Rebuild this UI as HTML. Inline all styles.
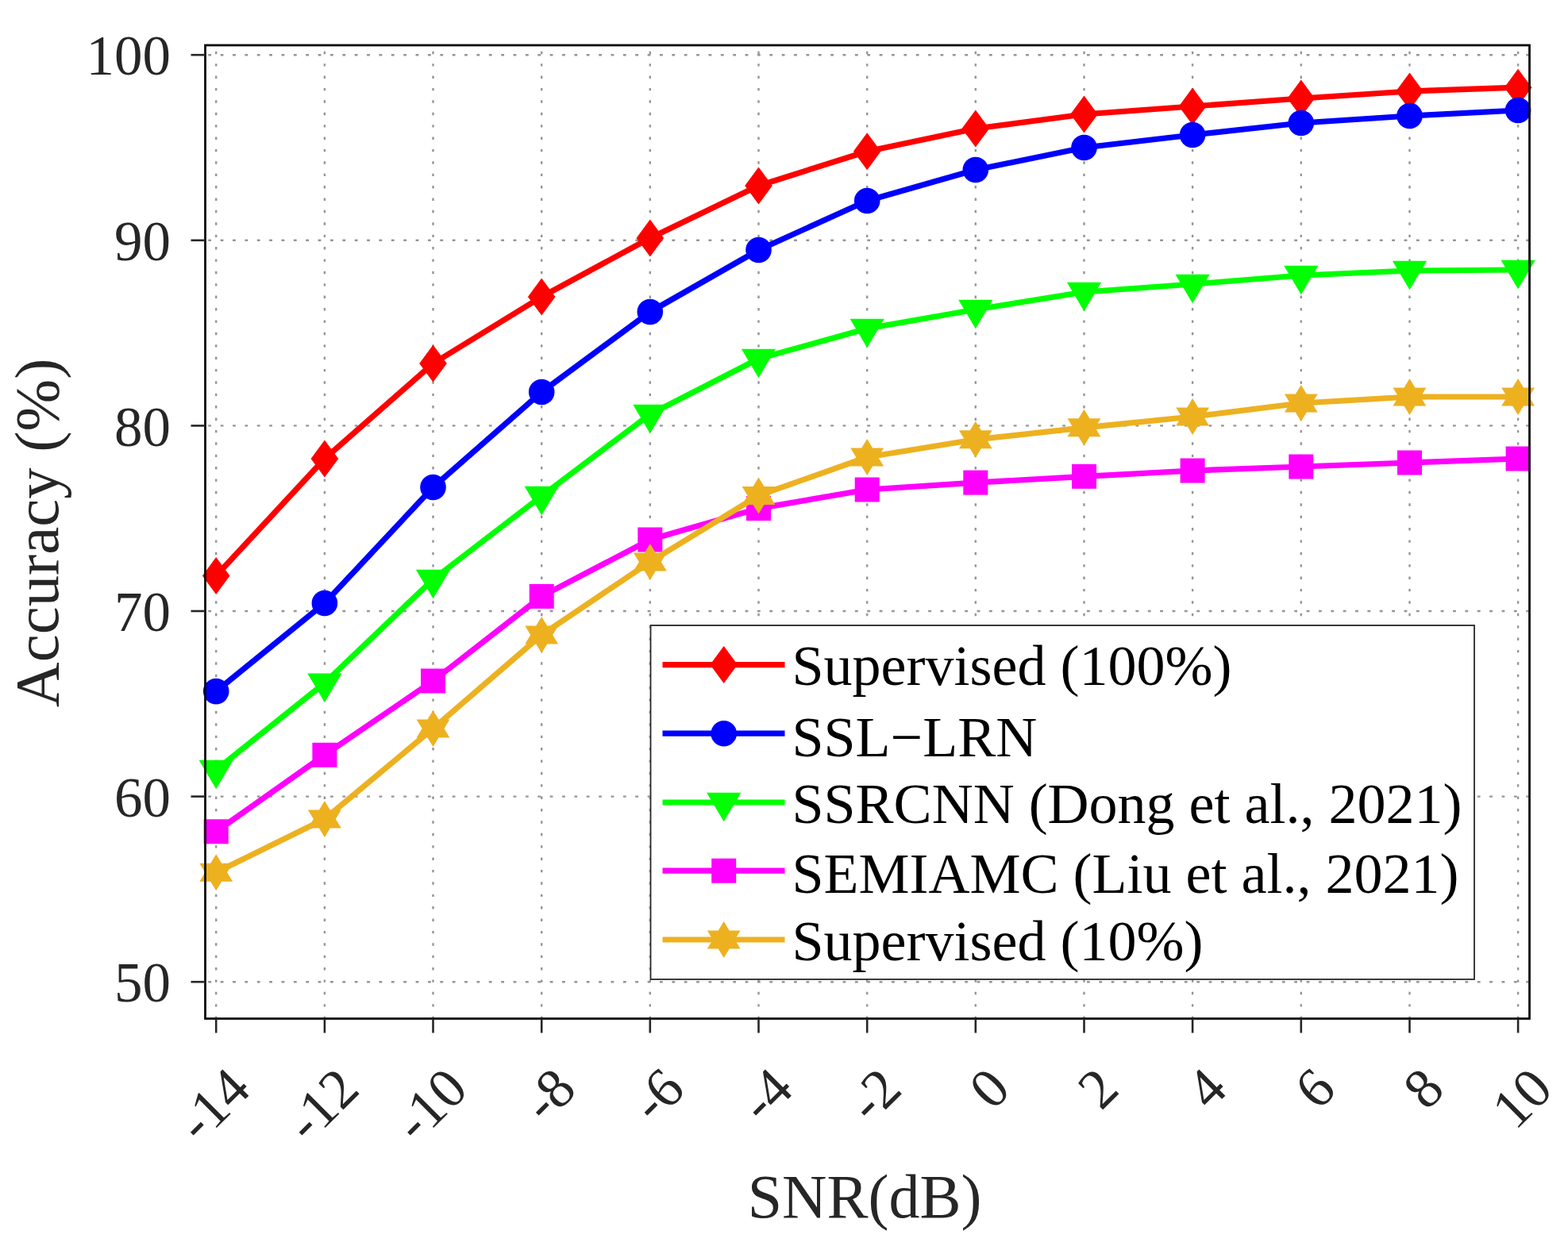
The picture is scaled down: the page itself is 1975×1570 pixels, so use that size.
<!DOCTYPE html>
<html><head><meta charset="utf-8"><title>Accuracy vs SNR</title>
<style>
html,body{margin:0;padding:0;background:#fff;}
svg{display:block;}
text{font-family:"Liberation Serif","Times New Roman",serif;}
</style></head><body>
<svg width="1975" height="1570" viewBox="0 0 1975 1570">
<rect x="0" y="0" width="1975" height="1570" fill="#fff"/>

<g stroke="#959595" stroke-width="2.4" stroke-dasharray="3.4 11.99" stroke-dashoffset="-7.8">
<line x1="272.2" y1="57.0" x2="272.2" y2="1283.5"/>
<line x1="408.9" y1="57.0" x2="408.9" y2="1283.5"/>
<line x1="545.5" y1="57.0" x2="545.5" y2="1283.5"/>
<line x1="682.2" y1="57.0" x2="682.2" y2="1283.5"/>
<line x1="818.8" y1="57.0" x2="818.8" y2="1283.5"/>
<line x1="955.5" y1="57.0" x2="955.5" y2="1283.5"/>
<line x1="1092.2" y1="57.0" x2="1092.2" y2="1283.5"/>
<line x1="1228.8" y1="57.0" x2="1228.8" y2="1283.5"/>
<line x1="1365.5" y1="57.0" x2="1365.5" y2="1283.5"/>
<line x1="1502.1" y1="57.0" x2="1502.1" y2="1283.5"/>
<line x1="1638.8" y1="57.0" x2="1638.8" y2="1283.5"/>
<line x1="1775.5" y1="57.0" x2="1775.5" y2="1283.5"/>
<line x1="1912.1" y1="57.0" x2="1912.1" y2="1283.5"/>
</g>
<g stroke="#959595" stroke-width="2.4" stroke-dasharray="3.8 11.57" stroke-dashoffset="-3.8">
<line x1="258.5" y1="1237.2" x2="1926.5" y2="1237.2"/>
<line x1="258.5" y1="1003.6" x2="1926.5" y2="1003.6"/>
<line x1="258.5" y1="770.0" x2="1926.5" y2="770.0"/>
<line x1="258.5" y1="536.4" x2="1926.5" y2="536.4"/>
<line x1="258.5" y1="302.8" x2="1926.5" y2="302.8"/>
<line x1="258.5" y1="69.2" x2="1926.5" y2="69.2"/>
</g>
<polyline points="272.2,725.5 408.9,578.0 545.5,458.0 682.2,374.0 818.8,300.0 955.5,234.0 1092.2,190.7 1228.8,162.0 1365.5,144.0 1502.1,134.0 1638.8,124.0 1775.5,115.0 1912.1,110.2" fill="none" stroke="#ff0000" stroke-width="7.2" stroke-linejoin="round" stroke-linecap="butt"/>
<path d="M272.2 702.0L289.5 725.5L272.2 749.0L254.9 725.5Z" fill="#ff0000"/><path d="M408.9 554.5L426.2 578.0L408.9 601.5L391.6 578.0Z" fill="#ff0000"/><path d="M545.5 434.5L562.8 458.0L545.5 481.5L528.2 458.0Z" fill="#ff0000"/><path d="M682.2 350.5L699.5 374.0L682.2 397.5L664.9 374.0Z" fill="#ff0000"/><path d="M818.8 276.5L836.1 300.0L818.8 323.5L801.5 300.0Z" fill="#ff0000"/><path d="M955.5 210.5L972.8 234.0L955.5 257.5L938.2 234.0Z" fill="#ff0000"/><path d="M1092.2 167.2L1109.5 190.7L1092.2 214.2L1074.9 190.7Z" fill="#ff0000"/><path d="M1228.8 138.5L1246.1 162.0L1228.8 185.5L1211.5 162.0Z" fill="#ff0000"/><path d="M1365.5 120.5L1382.8 144.0L1365.5 167.5L1348.2 144.0Z" fill="#ff0000"/><path d="M1502.1 110.5L1519.4 134.0L1502.1 157.5L1484.8 134.0Z" fill="#ff0000"/><path d="M1638.8 100.5L1656.1 124.0L1638.8 147.5L1621.5 124.0Z" fill="#ff0000"/><path d="M1775.5 91.5L1792.8 115.0L1775.5 138.5L1758.2 115.0Z" fill="#ff0000"/><path d="M1912.1 86.7L1929.4 110.2L1912.1 133.7L1894.8 110.2Z" fill="#ff0000"/>
<polyline points="272.2,871.1 408.9,760.0 545.5,614.0 682.2,494.0 818.8,393.0 955.5,315.0 1092.2,253.0 1228.8,214.0 1365.5,186.0 1502.1,170.0 1638.8,155.0 1775.5,146.0 1912.1,139.0" fill="none" stroke="#0000ff" stroke-width="7.2" stroke-linejoin="round" stroke-linecap="butt"/>
<circle cx="272.2" cy="871.1" r="16.3" fill="#0000ff"/><circle cx="408.9" cy="760.0" r="16.3" fill="#0000ff"/><circle cx="545.5" cy="614.0" r="16.3" fill="#0000ff"/><circle cx="682.2" cy="494.0" r="16.3" fill="#0000ff"/><circle cx="818.8" cy="393.0" r="16.3" fill="#0000ff"/><circle cx="955.5" cy="315.0" r="16.3" fill="#0000ff"/><circle cx="1092.2" cy="253.0" r="16.3" fill="#0000ff"/><circle cx="1228.8" cy="214.0" r="16.3" fill="#0000ff"/><circle cx="1365.5" cy="186.0" r="16.3" fill="#0000ff"/><circle cx="1502.1" cy="170.0" r="16.3" fill="#0000ff"/><circle cx="1638.8" cy="155.0" r="16.3" fill="#0000ff"/><circle cx="1775.5" cy="146.0" r="16.3" fill="#0000ff"/><circle cx="1912.1" cy="139.0" r="16.3" fill="#0000ff"/>
<polyline points="272.2,970.0 408.9,860.6 545.5,730.0 682.2,625.0 818.8,522.0 955.5,452.0 1092.2,414.0 1228.8,390.0 1365.5,368.0 1502.1,358.0 1638.8,347.0 1775.5,341.0 1912.1,340.0" fill="none" stroke="#00ff00" stroke-width="7.2" stroke-linejoin="round" stroke-linecap="butt"/>
<path d="M250.6 957.8L293.8 957.8L272.2 994.3Z" fill="#00ff00"/><path d="M387.3 848.4L430.5 848.4L408.9 884.9Z" fill="#00ff00"/><path d="M523.9 717.8L567.1 717.8L545.5 754.3Z" fill="#00ff00"/><path d="M660.6 612.8L703.8 612.8L682.2 649.3Z" fill="#00ff00"/><path d="M797.2 509.8L840.4 509.8L818.8 546.3Z" fill="#00ff00"/><path d="M933.9 439.8L977.1 439.8L955.5 476.3Z" fill="#00ff00"/><path d="M1070.6 401.8L1113.8 401.8L1092.2 438.3Z" fill="#00ff00"/><path d="M1207.2 377.8L1250.4 377.8L1228.8 414.3Z" fill="#00ff00"/><path d="M1343.9 355.8L1387.1 355.8L1365.5 392.3Z" fill="#00ff00"/><path d="M1480.5 345.8L1523.7 345.8L1502.1 382.3Z" fill="#00ff00"/><path d="M1617.2 334.8L1660.4 334.8L1638.8 371.3Z" fill="#00ff00"/><path d="M1753.9 328.8L1797.1 328.8L1775.5 365.3Z" fill="#00ff00"/><path d="M1890.5 327.8L1933.7 327.8L1912.1 364.3Z" fill="#00ff00"/>
<polyline points="272.2,1047.8 408.9,951.3 545.5,858.0 682.2,751.4 818.8,680.0 955.5,640.6 1092.2,617.0 1228.8,608.1 1365.5,600.3 1502.1,593.0 1638.8,588.0 1775.5,583.0 1912.1,578.0" fill="none" stroke="#ff00ff" stroke-width="7.2" stroke-linejoin="round" stroke-linecap="butt"/>
<rect x="256.7" y="1032.3" width="31.0" height="31.0" fill="#ff00ff"/><rect x="393.4" y="935.8" width="31.0" height="31.0" fill="#ff00ff"/><rect x="530.0" y="842.5" width="31.0" height="31.0" fill="#ff00ff"/><rect x="666.7" y="735.9" width="31.0" height="31.0" fill="#ff00ff"/><rect x="803.3" y="664.5" width="31.0" height="31.0" fill="#ff00ff"/><rect x="940.0" y="625.1" width="31.0" height="31.0" fill="#ff00ff"/><rect x="1076.7" y="601.5" width="31.0" height="31.0" fill="#ff00ff"/><rect x="1213.3" y="592.6" width="31.0" height="31.0" fill="#ff00ff"/><rect x="1350.0" y="584.8" width="31.0" height="31.0" fill="#ff00ff"/><rect x="1486.6" y="577.5" width="31.0" height="31.0" fill="#ff00ff"/><rect x="1623.3" y="572.5" width="31.0" height="31.0" fill="#ff00ff"/><rect x="1760.0" y="567.5" width="31.0" height="31.0" fill="#ff00ff"/><rect x="1896.6" y="562.5" width="31.0" height="31.0" fill="#ff00ff"/>
<polyline points="272.2,1099.3 408.9,1032.0 545.5,918.0 682.2,800.0 818.8,708.0 955.5,624.4 1092.2,576.0 1228.8,553.8 1365.5,538.8 1502.1,525.0 1638.8,508.0 1775.5,500.0 1912.1,500.0" fill="none" stroke="#edb120" stroke-width="7.2" stroke-linejoin="round" stroke-linecap="butt"/>
<path d="M272.2 1076.3L279.2 1087.8L293.1 1087.8L286.1 1099.3L293.1 1110.8L279.2 1110.8L272.2 1122.3L265.2 1110.8L251.3 1110.8L258.3 1099.3L251.3 1087.8L265.2 1087.8Z" fill="#edb120"/><path d="M408.9 1009.0L415.8 1020.5L429.8 1020.5L422.8 1032.0L429.8 1043.5L415.8 1043.5L408.9 1055.0L401.9 1043.5L387.9 1043.5L394.9 1032.0L387.9 1020.5L401.9 1020.5Z" fill="#edb120"/><path d="M545.5 895.0L552.5 906.5L566.4 906.5L559.5 918.0L566.4 929.5L552.5 929.5L545.5 941.0L538.5 929.5L524.6 929.5L531.6 918.0L524.6 906.5L538.5 906.5Z" fill="#edb120"/><path d="M682.2 777.0L689.2 788.5L703.1 788.5L696.1 800.0L703.1 811.5L689.2 811.5L682.2 823.0L675.2 811.5L661.3 811.5L668.2 800.0L661.3 788.5L675.2 788.5Z" fill="#edb120"/><path d="M818.8 685.0L825.8 696.5L839.8 696.5L832.8 708.0L839.8 719.5L825.8 719.5L818.8 731.0L811.9 719.5L797.9 719.5L804.9 708.0L797.9 696.5L811.9 696.5Z" fill="#edb120"/><path d="M955.5 601.4L962.5 612.9L976.4 612.9L969.4 624.4L976.4 635.9L962.5 635.9L955.5 647.4L948.5 635.9L934.6 635.9L941.6 624.4L934.6 612.9L948.5 612.9Z" fill="#edb120"/><path d="M1092.2 553.0L1099.1 564.5L1113.1 564.5L1106.1 576.0L1113.1 587.5L1099.1 587.5L1092.2 599.0L1085.2 587.5L1071.2 587.5L1078.2 576.0L1071.2 564.5L1085.2 564.5Z" fill="#edb120"/><path d="M1228.8 530.8L1235.8 542.3L1249.7 542.3L1242.8 553.8L1249.7 565.3L1235.8 565.3L1228.8 576.8L1221.8 565.3L1207.9 565.3L1214.9 553.8L1207.9 542.3L1221.8 542.3Z" fill="#edb120"/><path d="M1365.5 515.8L1372.5 527.3L1386.4 527.3L1379.4 538.8L1386.4 550.3L1372.5 550.3L1365.5 561.8L1358.5 550.3L1344.6 550.3L1351.5 538.8L1344.6 527.3L1358.5 527.3Z" fill="#edb120"/><path d="M1502.1 502.0L1509.1 513.5L1523.1 513.5L1516.1 525.0L1523.1 536.5L1509.1 536.5L1502.1 548.0L1495.2 536.5L1481.2 536.5L1488.2 525.0L1481.2 513.5L1495.2 513.5Z" fill="#edb120"/><path d="M1638.8 485.0L1645.8 496.5L1659.7 496.5L1652.7 508.0L1659.7 519.5L1645.8 519.5L1638.8 531.0L1631.8 519.5L1617.9 519.5L1624.9 508.0L1617.9 496.5L1631.8 496.5Z" fill="#edb120"/><path d="M1775.5 477.0L1782.4 488.5L1796.4 488.5L1789.4 500.0L1796.4 511.5L1782.4 511.5L1775.5 523.0L1768.5 511.5L1754.5 511.5L1761.5 500.0L1754.5 488.5L1768.5 488.5Z" fill="#edb120"/><path d="M1912.1 477.0L1919.1 488.5L1933.0 488.5L1926.1 500.0L1933.0 511.5L1919.1 511.5L1912.1 523.0L1905.1 511.5L1891.2 511.5L1898.2 500.0L1891.2 488.5L1905.1 488.5Z" fill="#edb120"/>
<rect x="258.5" y="57.0" width="1668.0" height="1226.5" fill="none" stroke="#0a0a0a" stroke-width="2.8"/>
<g stroke="#262626" stroke-width="2.6"><line x1="272.2" y1="1283.5" x2="272.2" y2="1301.5"/><line x1="408.9" y1="1283.5" x2="408.9" y2="1301.5"/><line x1="545.5" y1="1283.5" x2="545.5" y2="1301.5"/><line x1="682.2" y1="1283.5" x2="682.2" y2="1301.5"/><line x1="818.8" y1="1283.5" x2="818.8" y2="1301.5"/><line x1="955.5" y1="1283.5" x2="955.5" y2="1301.5"/><line x1="1092.2" y1="1283.5" x2="1092.2" y2="1301.5"/><line x1="1228.8" y1="1283.5" x2="1228.8" y2="1301.5"/><line x1="1365.5" y1="1283.5" x2="1365.5" y2="1301.5"/><line x1="1502.1" y1="1283.5" x2="1502.1" y2="1301.5"/><line x1="1638.8" y1="1283.5" x2="1638.8" y2="1301.5"/><line x1="1775.5" y1="1283.5" x2="1775.5" y2="1301.5"/><line x1="1912.1" y1="1283.5" x2="1912.1" y2="1301.5"/><line x1="258.5" y1="1237.2" x2="240.5" y2="1237.2"/><line x1="258.5" y1="1003.6" x2="240.5" y2="1003.6"/><line x1="258.5" y1="770.0" x2="240.5" y2="770.0"/><line x1="258.5" y1="536.4" x2="240.5" y2="536.4"/><line x1="258.5" y1="302.8" x2="240.5" y2="302.8"/><line x1="258.5" y1="69.2" x2="240.5" y2="69.2"/></g>
<text x="215" y="1262.4" font-size="71" fill="#262626" text-anchor="end">50</text>
<text x="215" y="1028.8" font-size="71" fill="#262626" text-anchor="end">60</text>
<text x="215" y="795.2" font-size="71" fill="#262626" text-anchor="end">70</text>
<text x="215" y="561.6" font-size="71" fill="#262626" text-anchor="end">80</text>
<text x="215" y="328.0" font-size="71" fill="#262626" text-anchor="end">90</text>
<text x="215" y="94.4" font-size="71" fill="#262626" text-anchor="end">100</text>
<text x="318.7" y="1375.4" font-size="71" fill="#262626" text-anchor="end" transform="rotate(-45 318.7 1375.4)">-14</text>
<text x="455.4" y="1375.4" font-size="71" fill="#262626" text-anchor="end" transform="rotate(-45 455.4 1375.4)">-12</text>
<text x="592.0" y="1375.4" font-size="71" fill="#262626" text-anchor="end" transform="rotate(-45 592.0 1375.4)">-10</text>
<text x="728.7" y="1375.4" font-size="71" fill="#262626" text-anchor="end" transform="rotate(-45 728.7 1375.4)">-8</text>
<text x="865.3" y="1375.4" font-size="71" fill="#262626" text-anchor="end" transform="rotate(-45 865.3 1375.4)">-6</text>
<text x="1002.0" y="1375.4" font-size="71" fill="#262626" text-anchor="end" transform="rotate(-45 1002.0 1375.4)">-4</text>
<text x="1138.7" y="1375.4" font-size="71" fill="#262626" text-anchor="end" transform="rotate(-45 1138.7 1375.4)">-2</text>
<text x="1275.3" y="1375.4" font-size="71" fill="#262626" text-anchor="end" transform="rotate(-45 1275.3 1375.4)">0</text>
<text x="1412.0" y="1375.4" font-size="71" fill="#262626" text-anchor="end" transform="rotate(-45 1412.0 1375.4)">2</text>
<text x="1548.6" y="1375.4" font-size="71" fill="#262626" text-anchor="end" transform="rotate(-45 1548.6 1375.4)">4</text>
<text x="1685.3" y="1375.4" font-size="71" fill="#262626" text-anchor="end" transform="rotate(-45 1685.3 1375.4)">6</text>
<text x="1822.0" y="1375.4" font-size="71" fill="#262626" text-anchor="end" transform="rotate(-45 1822.0 1375.4)">8</text>
<text x="1958.6" y="1375.4" font-size="71" fill="#262626" text-anchor="end" transform="rotate(-45 1958.6 1375.4)">10</text>
<text x="1089.1" y="1534.4" font-size="78" fill="#262626" text-anchor="middle">SNR(dB)</text>
<text x="73.2" y="671.4" font-size="78.8" fill="#262626" text-anchor="middle" transform="rotate(-90 73.2 671.4)">Accuracy (%)</text>
<rect x="819.5" y="788" width="1037.5" height="446" fill="#fff" stroke="#262626" stroke-width="1.8"/>
<line x1="834.5" y1="837.6" x2="988.5" y2="837.6" stroke="#ff0000" stroke-width="7.2"/>
<path d="M911.7 814.1L929.0 837.6L911.7 861.1L894.4 837.6Z" fill="#ff0000"/>
<text x="997.5" y="863.3" font-size="72" fill="#000">Supervised (100%)</text>
<line x1="834.5" y1="924.2" x2="988.5" y2="924.2" stroke="#0000ff" stroke-width="7.2"/>
<circle cx="911.7" cy="924.2" r="16.3" fill="#0000ff"/>
<text x="997.5" y="953" font-size="72" fill="#000">SSL−LRN</text>
<line x1="834.5" y1="1011" x2="988.5" y2="1011" stroke="#00ff00" stroke-width="7.2"/>
<path d="M890.1 998.8L933.3 998.8L911.7 1035.3Z" fill="#00ff00"/>
<text x="997.5" y="1036.7" font-size="72" fill="#000">SSRCNN (Dong et al., 2021)</text>
<line x1="834.5" y1="1097.2" x2="988.5" y2="1097.2" stroke="#ff00ff" stroke-width="7.2"/>
<rect x="896.2" y="1081.7" width="31.0" height="31.0" fill="#ff00ff"/>
<text x="997.5" y="1124.8" font-size="72" fill="#000">SEMIAMC (Liu et al., 2021)</text>
<line x1="834.5" y1="1184" x2="988.5" y2="1184" stroke="#edb120" stroke-width="7.2"/>
<path d="M911.7 1161.0L918.7 1172.5L932.6 1172.5L925.6 1184.0L932.6 1195.5L918.7 1195.5L911.7 1207.0L904.7 1195.5L890.8 1195.5L897.8 1184.0L890.8 1172.5L904.7 1172.5Z" fill="#edb120"/>
<text x="997.5" y="1210" font-size="72" fill="#000">Supervised (10%)</text>
</svg>
</body></html>
